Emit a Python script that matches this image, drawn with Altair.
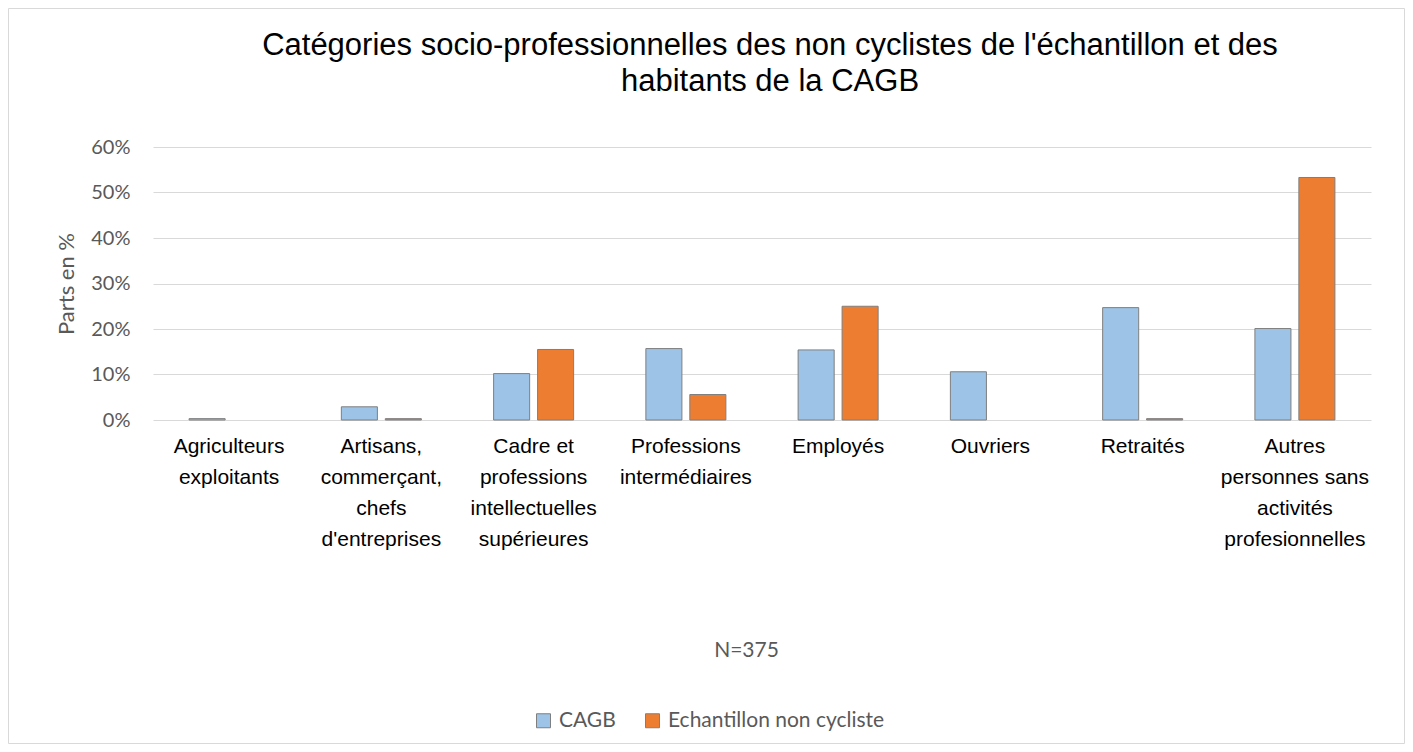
import altair as alt
import pandas as pd

categories = [
    "Agriculteurs\nexploitants",
    "Artisans,\ncommerçant,\nchefs\nd'entreprises",
    "Cadre et\nprofessions\nintellectuelles\nsupérieures",
    "Professions\nintermédiaires",
    "Employés",
    "Ouvriers",
    "Retraités",
    "Autres\npersonnes sans\nactivités\nprofesionnelles",
]
series = ["CAGB", "Echantillon non cycliste"]
cagb = [0.3, 2.9, 10.2, 15.7, 15.4, 10.6, 24.7, 20.1]
echantillon = [0.0, 0.3, 15.5, 5.6, 25.0, 0.0, 0.3, 53.3]
y_ticks = [0, 10, 20, 30, 40, 50, 60]
title_lines = [
    "Catégories socio-professionnelles des non cyclistes de l'échantillon et des",
    "habitants de la CAGB",
]
y_title = "Parts en %"
note = "N=375"
colors = ["#9DC3E6", "#ED7D31"]

rows = []
for c, a, b in zip(categories, cagb, echantillon):
    rows.append({"cat": c, "series": series[0], "value": a / 100})
    rows.append({"cat": c, "series": series[1], "value": b / 100})
df = pd.DataFrame(rows)
df = df[df["value"] > 0]

W, H = 1218, 273

bars = alt.Chart(df).mark_bar(stroke="#7f7f7f", strokeWidth=1).encode(
    x=alt.X(
        "cat:N",
        sort=categories,
        scale=alt.Scale(domain=categories, paddingInner=0.4745, paddingOuter=0.237),
        axis=alt.Axis(
            title=note,
            labelAngle=0,
            labelExpr="split(datum.label, '\\n')",
            labelFont="Liberation Sans",
            labelFontSize=21,
            labelColor="#000000",
            labelLineHeight=31,
            labelPadding=15,
            labelBaseline="top",
            labelLimit=400,
            domain=False,
            ticks=False,
            titleFont="Lato",
            titleFontSize=21,
            titleFontWeight="normal",
            titleColor="#595959",
            titleX=593,
            titleY=230,
            titleBaseline="middle",
            titleAlign="center",
        ),
    ),
    xOffset=alt.XOffset(
        "series:N",
        sort=series,
        scale=alt.Scale(domain=series, paddingInner=0.18, paddingOuter=0),
    ),
    y=alt.Y(
        "value:Q",
        scale=alt.Scale(domain=[0, 0.6], nice=False),
        axis=alt.Axis(
            title=y_title,
            values=[v / 100 for v in y_ticks],
            format=".0%",
            labelFont="Lato",
            labelFontSize=20,
            labelColor="#595959",
            labelPadding=23,
            domain=False,
            ticks=False,
            grid=True,
            gridColor="#d9d9d9",
            gridWidth=1,
            titleFont="Lato",
            titleFontSize=22,
            titleFontWeight="normal",
            titleColor="#595959",
            titleX=-87,
            titleY=H / 2,
            titleAngle=270,
            titleAlign="center",
            titleBaseline="middle",
        ),
    ),
    color=alt.Color(
        "series:N",
        scale=alt.Scale(domain=series, range=colors),
        legend=alt.Legend(
            title=None,
            orient="none",
            direction="horizontal",
            legendX=380,
            legendY=563,
            symbolType="square",
            symbolSize=196,
            symbolStrokeColor="#7f7f7f",
            symbolStrokeWidth=1,
            labelFont="Lato",
            labelFontSize=21,
            labelColor="#595959",
            labelOffset=5,
            labelLimit=400,
            columnPadding=26,
        ),
    ),
)

one = alt.Data(values=[{}])

title = alt.Chart(one).mark_text(
    text=title_lines,
    font="Liberation Sans",
    fontSize=31,
    color="#000000",
    align="center",
    baseline="alphabetic",
    lineHeight=36,
).encode(x=alt.value(W / 2 + 8), y=alt.value(-92))

border = alt.Chart(one).mark_rect(
    fillOpacity=0, stroke="#d9d9d9", strokeWidth=1
).encode(
    x=alt.value(-144.5), x2=alt.value(1251.5), y=alt.value(-138.5), y2=alt.value(596.5)
)

chart = alt.layer(border, bars, title).properties(
    width=W,
    height=H,
    autosize=alt.AutoSizeParams(type="none"),
    padding={"left": 145, "top": 139, "right": 34, "bottom": 324},
).configure_view(stroke=None)

chart.save("out.html", embed_options={"renderer": "svg", "actions": False})
